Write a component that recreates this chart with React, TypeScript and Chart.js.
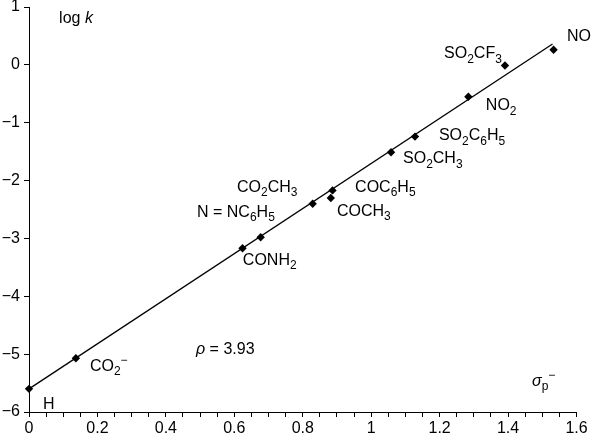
import React, { useEffect, useRef } from 'react';
import { Chart, registerables } from 'chart.js';

Chart.register(...registerables);

// Substituents (σp− vs log k)
const substituents = ['H', 'CO2−', 'CONH2', 'N=NC6H5', 'CO2CH3', 'COCH3', 'COC6H5', 'SO2CH3', 'SO2C6H5', 'NO2', 'SO2CF3', 'NO'];
const sigmaP = [0, 0.137, 0.624, 0.677, 0.829, 0.882, 0.887, 1.058, 1.128, 1.284, 1.391, 1.533];
const logK = [-5.6, -5.07, -3.17, -2.98, -2.4, -2.3, -2.17, -1.51, -1.24, -0.55, -0.01, 0.26];

// Regression line end points
const fitX = [0, 1.53];
const fitY = [-5.6, 0.36];

// Axis ticks
const xTickValues = [0, 0.2, 0.4, 0.6, 0.8, 1, 1.2, 1.4, 1.6];
const xTickLabels = ['0', '0.2', '0.4', '0.6', '0.8', '1', '1.2', '1.4', '1.6'];
const yTickValues = [-6, -5, -4, -3, -2, -1, 0, 1];
const yTickLabels = ['−6', '−5', '−4', '−3', '−2', '−1', '0', '1'];

// Text annotations: rich text markup (_{sub}, ^{sup}, *{italic}), left x / middle y in data units
const annotationTexts = [
  'log *{k}', 'NO', 'SO_{2}CF_{3}', 'NO_{2}', 'SO_{2}C_{6}H_{5}', 'SO_{2}CH_{3}',
  'CO_{2}CH_{3}', 'COC_{6}H_{5}', 'N = NC_{6}H_{5}', 'COCH_{3}', 'CONH_{2}',
  'CO_{2}^{−}', 'H', '*{ρ} = 3.93', '*{σ}_{p}^{−}',
];
const annotationX = [0.088, 1.572, 1.213, 1.335, 1.198, 1.093, 0.608, 0.953, 0.491, 0.9, 0.625, 0.178, 0.041, 0.488, 1.47];
const annotationY = [0.815, 0.505, 0.212, -0.684, -1.202, -1.598, -2.098, -2.098, -2.529, -2.512, -3.357, -5.184, -5.857, -4.891, -5.443];

const FONT = "'Liberation Sans', Arial, Helvetica, sans-serif";

type Seg = { t: string; mode: 'n' | 'sub' | 'sup'; italic: boolean };

function parseRich(s: string): Seg[] {
  const out: Seg[] = [];
  let i = 0;
  let buf = '';
  const flush = () => {
    if (buf) out.push({ t: buf, mode: 'n', italic: false });
    buf = '';
  };
  while (i < s.length) {
    const c = s[i];
    if ((c === '_' || c === '^' || c === '*') && s[i + 1] === '{') {
      flush();
      const end = s.indexOf('}', i + 2);
      const t = s.slice(i + 2, end);
      out.push({ t, mode: c === '_' ? 'sub' : c === '^' ? 'sup' : 'n', italic: c === '*' });
      i = end + 1;
    } else {
      buf += c;
      i++;
    }
  }
  flush();
  return out;
}

function drawRich(ctx: CanvasRenderingContext2D, s: string, x: number, yMid: number, size: number) {
  const segs = parseRich(s);
  const baseline = yMid + size * 0.36;
  let cx = x;
  ctx.textBaseline = 'alphabetic';
  ctx.textAlign = 'left';
  for (const seg of segs) {
    let fs = size;
    let by = baseline;
    if (seg.mode === 'sub') {
      fs = size * 0.75;
      by = baseline + size * 0.28;
    } else if (seg.mode === 'sup') {
      fs = size * 0.75;
      by = baseline - size * 0.42;
    }
    ctx.font = `${seg.italic ? 'italic ' : ''}${fs}px ${FONT}`;
    ctx.fillText(seg.t, cx, by);
    cx += ctx.measureText(seg.t).width;
  }
}

const annotationPlugin = {
  id: 'richLabels',
  afterDatasetsDraw(chart: any) {
    const ctx = chart.ctx as CanvasRenderingContext2D;
    const xs = chart.scales.x;
    const ys = chart.scales.y;
    ctx.save();
    ctx.fillStyle = '#000';
    annotationTexts.forEach((t, i) => {
      drawRich(ctx, t, xs.getPixelForValue(annotationX[i]), ys.getPixelForValue(annotationY[i]), 16);
    });
    ctx.restore();
  },
};

export default function App() {
  const ref = useRef<HTMLCanvasElement | null>(null);

  useEffect(() => {
    document.body.style.margin = '0';
    const canvas = ref.current;
    if (!canvas) return;
    const chart = new Chart(canvas, {
      type: 'scatter',
      data: {
        datasets: [
          {
            type: 'line',
            label: 'fit',
            data: fitX.map((x, i) => ({ x, y: fitY[i] })),
            borderColor: '#000',
            borderWidth: 1.3,
            pointRadius: 0,
            fill: false,
            clip: false,
            order: 2,
          } as any,
          {
            type: 'scatter',
            label: 'log k',
            data: sigmaP.map((x, i) => ({ x, y: logK[i] })),
            pointStyle: 'rectRot',
            pointRadius: 4.2,
            backgroundColor: '#000',
            borderColor: '#000',
            borderWidth: 0,
            clip: false,
            order: 1,
          } as any,
        ],
      },
      options: {
        animation: false,
        responsive: true,
        maintainAspectRatio: false,
        layout: { padding: { top: 7, right: 16.5, bottom: 0, left: 0 } },
        plugins: { legend: { display: false }, tooltip: { enabled: false } },
        scales: {
          x: {
            type: 'linear',
            min: 0,
            max: 1.6,
            afterFit: (s: any) => {
              s.height = 24;
            },
            ticks: {
              stepSize: 0.05,
              maxTicksLimit: 100,
              autoSkip: false,
              maxRotation: 0,
              padding: 2,
              color: '#000',
              font: { family: FONT, size: 16 },
              callback: (v: any) => {
                const idx = xTickValues.findIndex((t) => Math.abs(t - Number(v)) < 1e-6);
                return idx >= 0 ? xTickLabels[idx] : '';
              },
            },
            grid: { drawOnChartArea: false, drawTicks: true, tickLength: 5, color: '#000' },
            border: { display: true, color: '#000', width: 1 },
          },
          y: {
            type: 'linear',
            min: -6,
            max: 1,
            afterFit: (s: any) => {
              s.width = 29;
              s.paddingTop = 0;
              s.paddingBottom = 0;
            },
            ticks: {
              stepSize: 1,
              padding: 4,
              color: '#000',
              font: { family: FONT, size: 16 },
              callback: (v: any) => {
                const idx = yTickValues.findIndex((t) => Math.abs(t - Number(v)) < 1e-6);
                return idx >= 0 ? yTickLabels[idx] : '';
              },
            },
            grid: { drawOnChartArea: false, drawTicks: true, tickLength: 5, color: '#000' },
            border: { display: true, color: '#000', width: 1 },
          },
        },
      },
      plugins: [annotationPlugin],
    });
    return () => chart.destroy();
  }, []);

  return (
    <div style={{ width: 593, height: 436, position: 'relative' }}>
      <canvas ref={ref} aria-label={substituents.join(', ')} />
    </div>
  );
}
